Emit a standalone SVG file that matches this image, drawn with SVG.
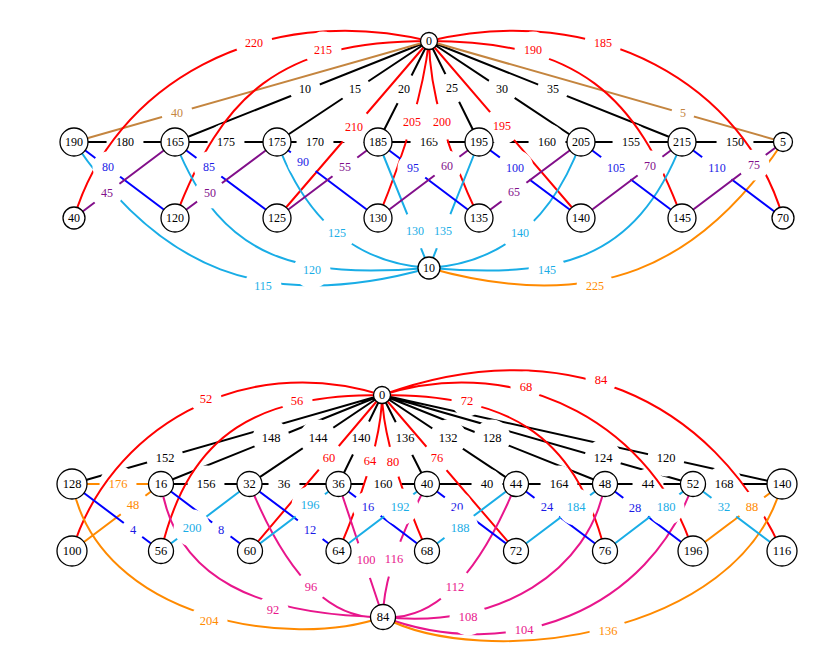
<svg xmlns="http://www.w3.org/2000/svg" width="839" height="658" viewBox="0 0 839 658">
<style>
.e{fill:none;stroke-width:2}
.k{stroke:#000}.r{stroke:#ff0000}.w{stroke:#c4853f}.c{stroke:#19ade6}.o{stroke:#ff8a00}.b{stroke:#0000ff}.p{stroke:#820f8a}.m{stroke:#e8168c}
text{font-family:"Liberation Serif","Times New Roman",serif;font-size:12px;text-anchor:middle}
.bot text{font-size:12.5px}
.tk{fill:#000}.tr{fill:#ff0000}.tw{fill:#c4853f}.tc{fill:#19ade6}.to{fill:#ff8a00}.tb{fill:#1a1ae6}.tp{fill:#820f8a}.tm{fill:#e8168c}
.nd{fill:#fff;stroke:#000;stroke-width:1.3}
</style>
<defs>
<circle id="g1" r="11.5" fill="#fff"/>
<circle id="g2" r="15.5" fill="#fff"/>
<circle id="g3" r="18.5" fill="#fff"/>
</defs>
<rect width="839" height="658" fill="#fff"/>

<g id="connectors-top">
<path class="e k" d="M429 41L175 142M429 41L277 142M429 41L378 142M429 41L479 142M429 41L581 142M429 41L682 142"/>
<g class="tk">
<use href="#g2" x="305" y="89"/><text x="305" y="93">10</text>
<use href="#g2" x="355" y="89"/><text x="355" y="93">15</text>
<use href="#g2" x="404" y="89"/><text x="404" y="93">20</text>
<use href="#g2" x="452" y="88"/><text x="452" y="92">25</text>
<use href="#g2" x="502" y="89"/><text x="502" y="93">30</text>
<use href="#g2" x="553" y="89"/><text x="553" y="93">35</text>
</g>
<path class="e k" d="M74 142H783"/>
<g class="tk">
<use href="#g3" x="125" y="142"/><text x="125" y="146">180</text>
<use href="#g3" x="226" y="142"/><text x="226" y="146">175</text>
<use href="#g3" x="315" y="142"/><text x="315" y="146">170</text>
<use href="#g3" x="429" y="142"/><text x="429" y="146">165</text>
<use href="#g3" x="547" y="142"/><text x="547" y="146">160</text>
<use href="#g3" x="631" y="142"/><text x="631" y="146">155</text>
<use href="#g3" x="735" y="142"/><text x="735" y="146">150</text>
</g>
<path class="e w" d="M429 41L74 142M429 41L783 142"/>
<g class="tw">
<use href="#g2" x="177" y="113"/><text x="177" y="117">40</text>
<use href="#g1" x="683" y="113"/><text x="683" y="117">5</text>
</g>
<path class="e r" d="M429 41C260 0 113 86 74 218M429 41C279 41 222 95 175 218M429 41L277 218M429 41Q420.5 114.5 378 218M429 41Q430 114.5 479 218M429 41L581 218M429 41C579 41 636 95 682 218M429 41C598 0 745 86 783 218"/>
<g class="tr">
<use href="#g3" x="254" y="43"/><text x="254" y="47">220</text>
<use href="#g3" x="323" y="50"/><text x="323" y="54">215</text>
<use href="#g3" x="354" y="127"/><text x="354" y="131">210</text>
<use href="#g3" x="412" y="122"/><text x="412" y="126">205</text>
<use href="#g3" x="442" y="122"/><text x="442" y="126">200</text>
<use href="#g3" x="502" y="126"/><text x="502" y="130">195</text>
<use href="#g3" x="533" y="50"/><text x="533" y="54">190</text>
<use href="#g3" x="603" y="43"/><text x="603" y="47">185</text>
</g>
<path class="e c" d="M74 142C158 266.5 262 315 429 268M175 142C223 263 300 278 429 268M277 142Q321 261 429 268M378 142L429 268M479 142L429 268M581 142Q537 261 429 268M682 142C635 263 558 278 429 268"/>
<g class="tc">
<use href="#g3" x="263" y="286"/><text x="263" y="290">115</text>
<use href="#g3" x="312" y="270"/><text x="312" y="274">120</text>
<use href="#g3" x="337" y="233"/><text x="337" y="237">125</text>
<use href="#g3" x="415" y="231"/><text x="415" y="235">130</text>
<use href="#g3" x="443" y="231"/><text x="443" y="235">135</text>
<use href="#g3" x="520" y="233"/><text x="520" y="237">140</text>
<use href="#g3" x="547" y="270"/><text x="547" y="274">145</text>
</g>
<path class="e o" d="M783 142C700 266.5 596 315 429 268"/>
<g class="to"><use href="#g3" x="595" y="286"/><text x="595" y="290">225</text></g>
<path class="e b" d="M74 142L175 218M175 142L277 218M277 142L378 218M378 142L479 218M479 142L581 218M581 142L682 218M682 142L783 218"/>
<g class="tb">
<use href="#g2" x="108" y="167"/><text x="108" y="171">80</text>
<use href="#g2" x="209" y="167"/><text x="209" y="171">85</text>
<use href="#g2" x="303" y="162"/><text x="303" y="166">90</text>
<use href="#g2" x="413" y="168"/><text x="413" y="172">95</text>
<use href="#g3" x="515" y="168"/><text x="515" y="172">100</text>
<use href="#g3" x="616" y="168"/><text x="616" y="172">105</text>
<use href="#g3" x="717" y="168"/><text x="717" y="172">110</text>
</g>
<path class="e p" d="M175 142L74 218M277 142L175 218M378 142L277 218M479 142L378 218M581 142L479 218M682 142L581 218M783 142L682 218"/>
<g class="tp">
<use href="#g2" x="107" y="193"/><text x="107" y="197">45</text>
<use href="#g2" x="210" y="193"/><text x="210" y="197">50</text>
<use href="#g2" x="345" y="167"/><text x="345" y="171">55</text>
<use href="#g2" x="447" y="166"/><text x="447" y="170">60</text>
<use href="#g2" x="514" y="192"/><text x="514" y="196">65</text>
<use href="#g2" x="650" y="166"/><text x="650" y="170">70</text>
<use href="#g2" x="754" y="165"/><text x="754" y="169">75</text>
</g>
</g>

<g id="nodes-top">
<g id="t0"><circle class="nd" cx="429" cy="41" r="8.5"/><text x="429" y="45">0</text></g>
<g id="t190"><circle class="nd" cx="74" cy="142" r="14"/><text x="74" y="146">190</text></g>
<g id="t165"><circle class="nd" cx="175" cy="142" r="14"/><text x="175" y="146">165</text></g>
<g id="t175"><circle class="nd" cx="277" cy="142" r="14"/><text x="277" y="146">175</text></g>
<g id="t185"><circle class="nd" cx="378" cy="142" r="14"/><text x="378" y="146">185</text></g>
<g id="t195"><circle class="nd" cx="479" cy="142" r="14"/><text x="479" y="146">195</text></g>
<g id="t205"><circle class="nd" cx="581" cy="142" r="14"/><text x="581" y="146">205</text></g>
<g id="t215"><circle class="nd" cx="682" cy="142" r="14"/><text x="682" y="146">215</text></g>
<g id="t5"><circle class="nd" cx="783" cy="142" r="9.5"/><text x="783" y="146">5</text></g>
<g id="t40"><circle class="nd" cx="74" cy="218" r="11"/><text x="74" y="222">40</text></g>
<g id="t120"><circle class="nd" cx="175" cy="218" r="14"/><text x="175" y="222">120</text></g>
<g id="t125"><circle class="nd" cx="277" cy="218" r="14"/><text x="277" y="222">125</text></g>
<g id="t130"><circle class="nd" cx="378" cy="218" r="14"/><text x="378" y="222">130</text></g>
<g id="t135"><circle class="nd" cx="479" cy="218" r="14"/><text x="479" y="222">135</text></g>
<g id="t140"><circle class="nd" cx="581" cy="218" r="14"/><text x="581" y="222">140</text></g>
<g id="t145"><circle class="nd" cx="682" cy="218" r="14"/><text x="682" y="222">145</text></g>
<g id="t70"><circle class="nd" cx="783" cy="218" r="11"/><text x="783" y="222">70</text></g>
<g id="t10"><circle class="nd" cx="429" cy="268" r="11"/><text x="429" y="272">10</text></g>
</g>

<g class="bot">
<g id="connectors-bottom">
<path class="e k" d="M382 395L72 484M382 395L161 484M382 395L249.5 484M382 395L338.5 484M382 395L427 484M382 395L516 484M382 395L605 484M382 395L693 484M382 395L782 484"/>
<g class="tk">
<use href="#g3" x="165" y="458"/><text x="165" y="462">152</text>
<use href="#g3" x="271" y="438"/><text x="271" y="442">148</text>
<use href="#g3" x="318" y="438"/><text x="318" y="442">144</text>
<use href="#g3" x="361" y="438"/><text x="361" y="442">140</text>
<use href="#g3" x="405" y="438"/><text x="405" y="442">136</text>
<use href="#g3" x="448" y="438"/><text x="448" y="442">132</text>
<use href="#g3" x="492" y="438"/><text x="492" y="442">128</text>
<use href="#g3" x="603" y="458"/><text x="603" y="462">124</text>
<use href="#g3" x="666" y="458"/><text x="666" y="462">120</text>
</g>
<path class="e k" d="M161 484H782"/>
<path class="e o" d="M72 484H161"/>
<g class="tk">
<use href="#g3" x="206" y="484"/><text x="206" y="488">156</text>
<use href="#g2" x="284" y="484"/><text x="284" y="488">36</text>
<use href="#g3" x="383" y="484"/><text x="383" y="488">160</text>
<use href="#g2" x="487" y="484"/><text x="487" y="488">40</text>
<use href="#g3" x="559" y="484"/><text x="559" y="488">164</text>
<use href="#g2" x="648" y="484"/><text x="648" y="488">44</text>
<use href="#g3" x="724" y="484"/><text x="724" y="488">168</text>
</g>
<g class="to"><use href="#g3" x="118" y="484"/><text x="118" y="488">176</text></g>
<path class="e r" d="M382 395C240 350 108 431 72 551M382 395C260 395 190 430 161 551M382 395L250 551M382 395Q382 449 338.5 551M382 395Q383.5 451 427 551M382 395L516 551M382 395C504 395 574 430 605 551M382 395C524 350 656 431 693 551M382 395C560 330 712 396 782 551"/>
<g class="tr">
<use href="#g2" x="206" y="399"/><text x="206" y="403">52</text>
<use href="#g2" x="297" y="401"/><text x="297" y="405">56</text>
<use href="#g2" x="329" y="458"/><text x="329" y="462">60</text>
<use href="#g2" x="370" y="461"/><text x="370" y="465">64</text>
<use href="#g2" x="393" y="462"/><text x="393" y="466">80</text>
<use href="#g2" x="437" y="458"/><text x="437" y="462">76</text>
<use href="#g2" x="467" y="401"/><text x="467" y="405">72</text>
<use href="#g2" x="526" y="387"/><text x="526" y="391">68</text>
<use href="#g2" x="601" y="380"/><text x="601" y="384">84</text>
</g>
<path class="e m" d="M161 484C175 580 260 615 383 617M249.5 484Q306 623.5 383 617M338.5 484L383 617M427 484Q383 567.5 383 617M516 484Q459 623.5 383 617M605 484C590 570 500 630 383 617M693 484C650 610 510 665 383 617"/>
<g class="tm">
<use href="#g2" x="273" y="610"/><text x="273" y="614">92</text>
<use href="#g2" x="311" y="587"/><text x="311" y="591">96</text>
<use href="#g3" x="366" y="560"/><text x="366" y="564">100</text>
<use href="#g3" x="394" y="559"/><text x="394" y="563">116</text>
<use href="#g3" x="455" y="587"/><text x="455" y="591">112</text>
<use href="#g3" x="468" y="617"/><text x="468" y="621">108</text>
<use href="#g3" x="524" y="630"/><text x="524" y="634">104</text>
</g>
<path class="e o" d="M72 484C100 620 290 650 383 617M782 484C740 640 480 670 383 617M161 484L72 551M782 484L693 551"/>
<g class="to">
<use href="#g3" x="209" y="621"/><text x="209" y="625">204</text>
<use href="#g3" x="608" y="631"/><text x="608" y="635">136</text>
<use href="#g2" x="133" y="505"/><text x="133" y="509">48</text>
<use href="#g2" x="752" y="507"/><text x="752" y="511">88</text>
</g>
<path class="e b" d="M72 484L161 551M161 484L250 551M249.5 484L338.5 551M338.5 484L427 551M427 484L516 551M516 484L605 551M605 484L693 551"/>
<g class="tb">
<use href="#g1" x="133" y="530"/><text x="133" y="534">4</text>
<use href="#g1" x="221" y="530"/><text x="221" y="534">8</text>
<use href="#g2" x="310" y="530"/><text x="310" y="534">12</text>
<use href="#g2" x="368" y="507"/><text x="368" y="511">16</text>
<use href="#g2" x="457" y="507"/><text x="457" y="511">20</text>
<use href="#g2" x="547" y="507"/><text x="547" y="511">24</text>
<use href="#g2" x="635" y="508"/><text x="635" y="512">28</text>
</g>
<path class="e c" d="M249.5 484L161 551M338.5 484L250 551M427 484L338.5 551M516 484L427 551M605 484L516 551M693 484L605 551M693 484L782 551"/>
<g class="tc">
<use href="#g3" x="192" y="528"/><text x="192" y="532">200</text>
<use href="#g3" x="310" y="505"/><text x="310" y="509">196</text>
<use href="#g3" x="400" y="507"/><text x="400" y="511">192</text>
<use href="#g3" x="460" y="528"/><text x="460" y="532">188</text>
<use href="#g3" x="576" y="507"/><text x="576" y="511">184</text>
<use href="#g3" x="666" y="507"/><text x="666" y="511">180</text>
<use href="#g2" x="724" y="507"/><text x="724" y="511">32</text>
</g>
</g>

<g id="nodes-bottom">
<g id="b0"><circle class="nd" cx="382" cy="395" r="8.5"/><text x="382" y="399">0</text></g>
<g id="b128"><circle class="nd" cx="72" cy="484" r="15"/><text x="72" y="488">128</text></g>
<g id="b16"><circle class="nd" cx="161" cy="484" r="12.5"/><text x="161" y="488">16</text></g>
<g id="b32"><circle class="nd" cx="249.5" cy="484" r="12.5"/><text x="249.5" y="488">32</text></g>
<g id="b36"><circle class="nd" cx="338.5" cy="484" r="12.5"/><text x="338.5" y="488">36</text></g>
<g id="b40"><circle class="nd" cx="427" cy="484" r="12.5"/><text x="427" y="488">40</text></g>
<g id="b44"><circle class="nd" cx="516" cy="484" r="12.5"/><text x="516" y="488">44</text></g>
<g id="b48"><circle class="nd" cx="605" cy="484" r="12.5"/><text x="605" y="488">48</text></g>
<g id="b52"><circle class="nd" cx="693" cy="484" r="12.5"/><text x="693" y="488">52</text></g>
<g id="b140"><circle class="nd" cx="782" cy="484" r="15"/><text x="782" y="488">140</text></g>
<g id="b100"><circle class="nd" cx="72" cy="551" r="15"/><text x="72" y="555">100</text></g>
<g id="b56"><circle class="nd" cx="161" cy="551" r="12.5"/><text x="161" y="555">56</text></g>
<g id="b60"><circle class="nd" cx="250" cy="551" r="12.5"/><text x="250" y="555">60</text></g>
<g id="b64"><circle class="nd" cx="338.5" cy="551" r="12.5"/><text x="338.5" y="555">64</text></g>
<g id="b68"><circle class="nd" cx="427" cy="551" r="12.5"/><text x="427" y="555">68</text></g>
<g id="b72"><circle class="nd" cx="516" cy="551" r="12.5"/><text x="516" y="555">72</text></g>
<g id="b76"><circle class="nd" cx="605" cy="551" r="12.5"/><text x="605" y="555">76</text></g>
<g id="b196"><circle class="nd" cx="693" cy="551" r="15"/><text x="693" y="555">196</text></g>
<g id="b116"><circle class="nd" cx="782" cy="551" r="15"/><text x="782" y="555">116</text></g>
<g id="b84"><circle class="nd" cx="383" cy="617" r="12.5"/><text x="383" y="621">84</text></g>
</g>
</g>
</svg>
